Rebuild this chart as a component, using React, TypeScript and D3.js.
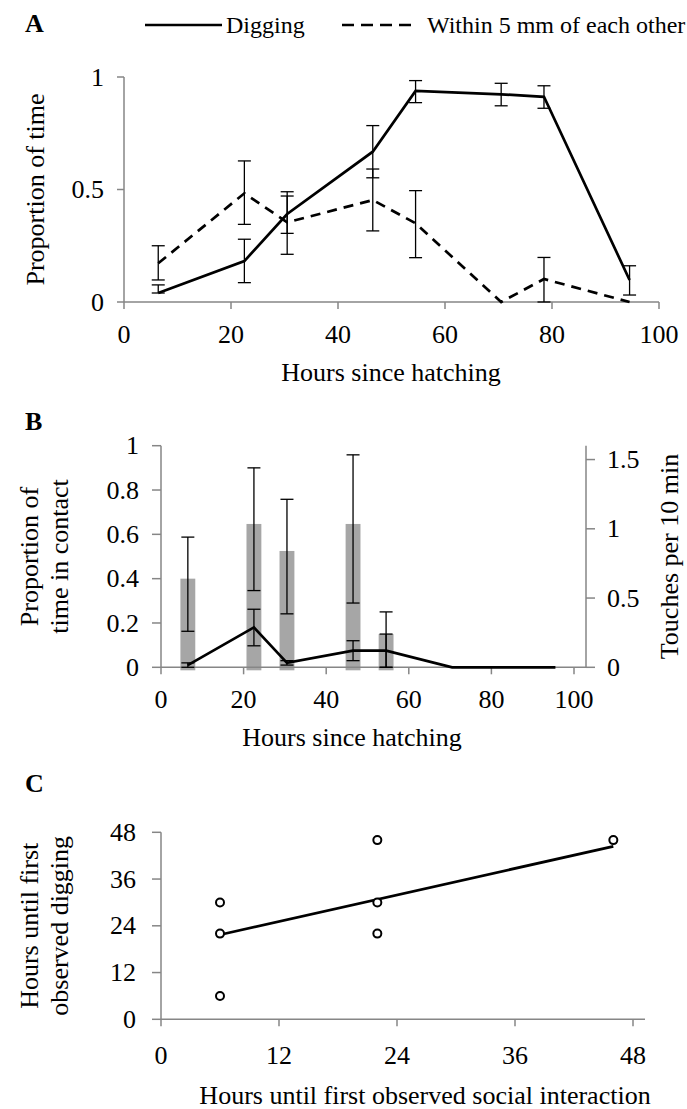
import React from 'react';
import * as d3 from 'd3';

// ---------- Panel A data ----------
const hoursA = [6.4, 22.5, 30.5, 46.5, 54.5, 70.5, 78.5, 94.5];
const digging = [0.04, 0.182, 0.391, 0.668, 0.938, 0.923, 0.912, 0.098];
const diggingLo = [0.04, 0.086, 0.305, 0.552, 0.886, 0.872, 0.861, 0.031];
const diggingHi = [0.076, 0.279, 0.471, 0.784, 0.984, 0.972, 0.961, 0.161];
const within5 = [0.172, 0.483, 0.354, 0.453, 0.35, 0, 0.102, 0];
const within5Lo: (number | null)[] = [0.098, 0.345, 0.212, 0.316, 0.197, null, 0, null];
const within5Hi: (number | null)[] = [0.25, 0.627, 0.49, 0.591, 0.495, null, 0.198, null];
const ticksAx = [0, 20, 40, 60, 80, 100];
const ticksAy = [0, 0.5, 1];

// ---------- Panel B data ----------
const hoursBars = [6.5, 22.5, 30.5, 46.5, 54.5];
const touches = [0.64, 1.035, 0.84, 1.035, 0.24];
const touchesLo = [0.26, 0.554, 0.386, 0.464, 0];
const touchesHi = [0.94, 1.44, 1.213, 1.534, 0.4];
const hoursB = [6.5, 22.5, 30.5, 46.5, 54.5, 70.5, 78.5, 95.5];
const contact = [0.01, 0.18, 0.02, 0.075, 0.075, 0, 0, 0];
const contactLo: (number | null)[] = [0, 0.097, 0.01, 0.03, 0, null, null, null];
const contactHi: (number | null)[] = [0.02, 0.262, 0.03, 0.12, 0.15, null, null, null];
const ticksBx = [0, 20, 40, 60, 80, 100];
const ticksBl = [0, 0.2, 0.4, 0.6, 0.8, 1];
const ticksBr = [0, 0.5, 1, 1.5];

// ---------- Panel C data ----------
const socialHours = [6, 6, 6, 22, 22, 22, 46];
const diggingHours = [30, 22, 6, 46, 30, 22, 46];
const trendX = [6, 46];
const trendY = [21.7, 44.4];
const ticksC = [0, 12, 24, 36, 48];

const FONT = '"Liberation Serif", "DejaVu Serif", serif';
const AX = '#868686';
const FS = 26;

function ErrBar({ x, lo, hi, y }: { x: number; lo: number; hi: number; y: (v: number) => number }) {
  const cw = 6.5;
  return (
    <g stroke="#000" strokeWidth={1.3}>
      <line x1={x} x2={x} y1={y(lo)} y2={y(hi)} />
      <line x1={x - cw} x2={x + cw} y1={y(lo)} y2={y(lo)} />
      <line x1={x - cw} x2={x + cw} y1={y(hi)} y2={y(hi)} />
    </g>
  );
}

export default function App() {
  const xA = d3.scaleLinear().domain([0, 100]).range([124, 659]);
  const yA = d3.scaleLinear().domain([0, 1]).range([302, 77]);
  const lineA = d3.line<number>().x((_, i) => xA(hoursA[i])).y((d) => yA(d));

  const xB = d3.scaleLinear().domain([0, 100]).range([161, 574]);
  const yBL = d3.scaleLinear().domain([0, 1]).range([667.3, 445.7]);
  const yBR = d3.scaleLinear().domain([0, 1.6]).range([667.3, 445.7]);
  const lineB = d3.line<number>().x((_, i) => xB(hoursB[i])).y((d) => yBL(d));
  const barW = xB(3.6) - xB(0);

  const xC = d3.scaleLinear().domain([0, 48]).range([161, 633]);
  const yC = d3.scaleLinear().domain([0, 48]).range([1019.3, 832.3]);
  const lineC = d3.line<number>().x((_, i) => xC(trendX[i])).y((d) => yC(d));

  const txt = { fontFamily: FONT } as React.CSSProperties;

  return (
    <svg width={687} height={1109} style={{ position: 'absolute', left: 0, top: 0, background: '#fff', fontFamily: FONT }}>
      <rect x={0} y={0} width={687} height={1109} fill="#fff" />
      <g style={txt}>
        {/* ================= Panel A ================= */}
        <text x={25} y={32} fontSize={26} fontWeight="bold" style={txt}>A</text>
        <line x1={145} x2={222} y1={25} y2={25} stroke="#000" strokeWidth={2.5} />
        <text x={226} y={33} fontSize={24} style={txt}>Digging</text>
        <line x1={342} x2={412} y1={25} y2={25} stroke="#000" strokeWidth={2.5} strokeDasharray="12,7" />
        <text x={427} y={33} fontSize={24} style={txt}>Within 5 mm of each other</text>

        <line x1={xA(0)} x2={xA(0)} y1={yA(1)} y2={yA(0)} stroke={AX} strokeWidth={1.5} />
        <line x1={xA(0)} x2={xA(100)} y1={yA(0)} y2={yA(0)} stroke={AX} strokeWidth={1.5} />
        {ticksAy.map((t) => (
          <g key={'ay' + t}>
            <line x1={xA(0) - 7} x2={xA(0)} y1={yA(t)} y2={yA(t)} stroke={AX} strokeWidth={1.5} />
            <text x={104} y={yA(t)} dy="0.33em" textAnchor="end" fontSize={FS} style={txt}>{t}</text>
          </g>
        ))}
        {ticksAx.map((t) => (
          <g key={'ax' + t}>
            <line x1={xA(t)} x2={xA(t)} y1={yA(0)} y2={yA(0) + 7} stroke={AX} strokeWidth={1.5} />
            <text x={xA(t)} y={343} textAnchor="middle" fontSize={FS} style={txt}>{t}</text>
          </g>
        ))}
        <text x={391} y={381} textAnchor="middle" fontSize={FS} style={txt}>Hours since hatching</text>
        <text transform={`translate(44,${(yA(0) + yA(1)) / 2}) rotate(-90)`} textAnchor="middle" fontSize={FS} style={txt}>Proportion of time</text>

        {hoursA.map((h, i) => (
          <ErrBar key={'ed' + i} x={xA(h)} lo={diggingLo[i]} hi={diggingHi[i]} y={yA} />
        ))}
        {hoursA.map((h, i) =>
          within5Lo[i] !== null && within5Hi[i] !== null ? (
            <ErrBar key={'ew' + i} x={xA(h)} lo={within5Lo[i] as number} hi={within5Hi[i] as number} y={yA} />
          ) : null
        )}
        <path d={lineA(within5) || ''} fill="none" stroke="#000" strokeWidth={2.7} strokeDasharray="10,7" />
        <path d={lineA(digging) || ''} fill="none" stroke="#000" strokeWidth={2.7} />

        {/* ================= Panel B ================= */}
        <text x={25} y={430} fontSize={26} fontWeight="bold" style={txt}>B</text>
        {hoursBars.map((h, i) => (
          <rect key={'bar' + i} x={xB(h) - barW / 2} y={yBR(touches[i])} width={barW} height={yBR(0) - yBR(touches[i]) + 3} fill="#a6a6a6" />
        ))}
        <line x1={xB(0)} x2={xB(0)} y1={yBL(1)} y2={yBL(0)} stroke={AX} strokeWidth={1.5} />
        <line x1={586} x2={586} y1={yBR(1.6)} y2={yBR(0)} stroke={AX} strokeWidth={1.5} />
        <line x1={xB(0)} x2={586} y1={yBL(0)} y2={yBL(0)} stroke={AX} strokeWidth={1.5} />
        {ticksBl.map((t) => (
          <g key={'bl' + t}>
            <line x1={xB(0) - 9} x2={xB(0)} y1={yBL(t)} y2={yBL(t)} stroke={AX} strokeWidth={1.5} />
            <text x={139} y={yBL(t)} dy="0.33em" textAnchor="end" fontSize={FS} style={txt}>{t}</text>
          </g>
        ))}
        {ticksBr.map((t) => (
          <g key={'br' + t}>
            <line x1={586} x2={595} y1={yBR(t)} y2={yBR(t)} stroke={AX} strokeWidth={1.5} />
            <text x={607} y={yBR(t)} dy="0.33em" textAnchor="start" fontSize={FS} style={txt}>{t}</text>
          </g>
        ))}
        {ticksBx.map((t) => (
          <g key={'bx' + t}>
            <line x1={xB(t)} x2={xB(t)} y1={yBL(0)} y2={yBL(0) + 7} stroke={AX} strokeWidth={1.5} />
            <text x={xB(t)} y={708} textAnchor="middle" fontSize={FS} style={txt}>{t}</text>
          </g>
        ))}
        <text x={352} y={746} textAnchor="middle" fontSize={FS} style={txt}>Hours since hatching</text>
        <text transform={`translate(0,${(yBL(0) + yBL(1)) / 2}) rotate(-90)`} textAnchor="middle" fontSize={FS} style={txt}>
          <tspan x={0} y={38}>Proportion of</tspan>
          <tspan x={0} y={68}>time in contact</tspan>
        </text>
        <text transform={`translate(678,${(yBL(0) + yBL(1)) / 2}) rotate(-90)`} textAnchor="middle" fontSize={FS} style={txt}>Touches per 10 min</text>

        {hoursBars.map((h, i) => (
          <ErrBar key={'et' + i} x={xB(h)} lo={touchesLo[i]} hi={touchesHi[i]} y={yBR} />
        ))}
        {hoursB.map((h, i) =>
          contactLo[i] !== null && contactHi[i] !== null ? (
            <ErrBar key={'ec' + i} x={xB(h)} lo={contactLo[i] as number} hi={contactHi[i] as number} y={yBL} />
          ) : null
        )}
        <path d={lineB(contact) || ''} fill="none" stroke="#000" strokeWidth={2.7} />

        {/* ================= Panel C ================= */}
        <text x={25} y={792} fontSize={26} fontWeight="bold" style={txt}>C</text>
        <line x1={xC(0)} x2={xC(0)} y1={yC(48)} y2={yC(0)} stroke={AX} strokeWidth={1.5} />
        <line x1={xC(0)} x2={645} y1={yC(0)} y2={yC(0)} stroke={AX} strokeWidth={1.5} />
        {ticksC.map((t) => (
          <g key={'cy' + t}>
            <line x1={xC(0) - 9} x2={xC(0)} y1={yC(t)} y2={yC(t)} stroke={AX} strokeWidth={1.5} />
            <text x={136} y={yC(t)} dy="0.33em" textAnchor="end" fontSize={FS} style={txt}>{t}</text>
          </g>
        ))}
        {ticksC.map((t) => (
          <g key={'cx' + t}>
            <line x1={xC(t)} x2={xC(t)} y1={yC(0)} y2={yC(0) + 7} stroke={AX} strokeWidth={1.5} />
            <text x={xC(t)} y={1064} textAnchor="middle" fontSize={FS} style={txt}>{t}</text>
          </g>
        ))}
        <text x={425} y={1104} textAnchor="middle" fontSize={FS} style={txt}>Hours until first observed social interaction</text>
        <text transform={`translate(0,${(yC(0) + yC(48)) / 2}) rotate(-90)`} textAnchor="middle" fontSize={FS} style={txt}>
          <tspan x={0} y={38}>Hours until first</tspan>
          <tspan x={0} y={68}>observed digging</tspan>
        </text>
        <path d={lineC(trendY) || ''} fill="none" stroke="#000" strokeWidth={2.7} />
        {socialHours.map((h, i) => (
          <circle key={'pt' + i} cx={xC(h)} cy={yC(diggingHours[i])} r={4} fill="#fff" stroke="#000" strokeWidth={2} />
        ))}
      </g>
    </svg>
  );
}
